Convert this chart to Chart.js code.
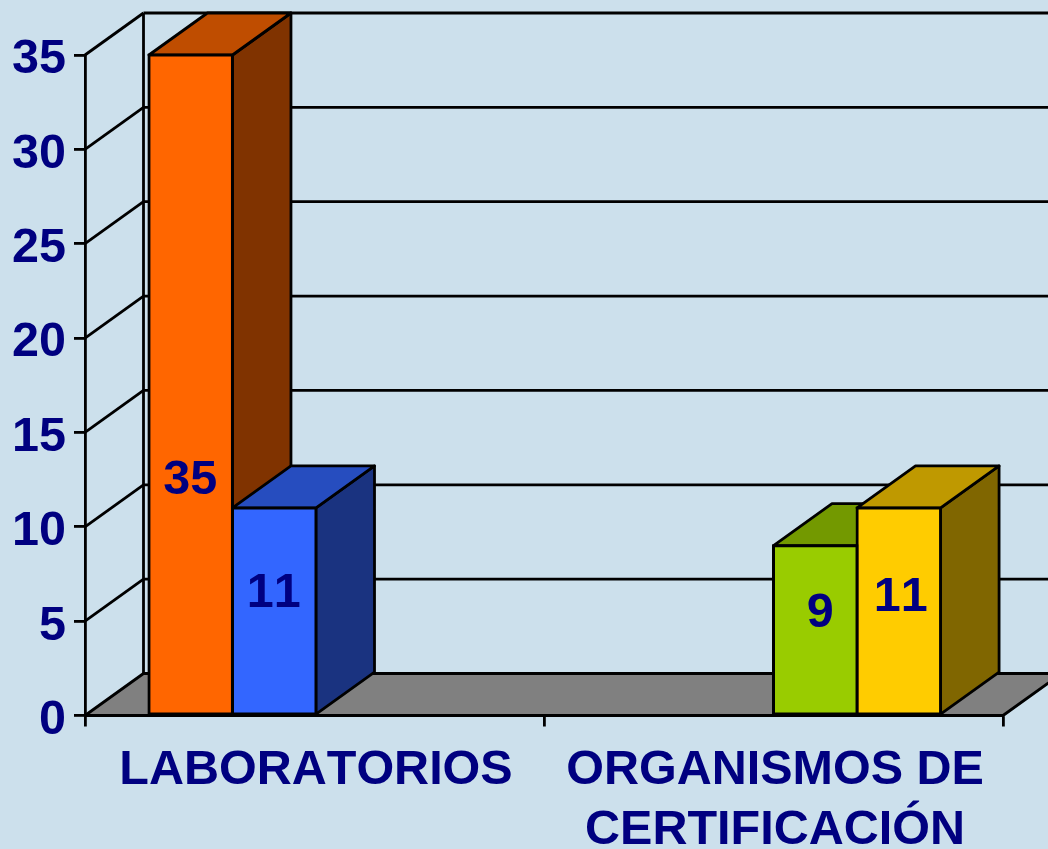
<!DOCTYPE html>
<html>
<head>
<meta charset="utf-8">
<title>Laboratorios y organismos de certificación</title>
<script src="https://cdn.jsdelivr.net/npm/chart.js@4"></script>
<style>
  html, body { margin: 0; padding: 0; background: #cce0ec; overflow: hidden; }
  canvas { display: block; }
</style>
</head>
<body>
<canvas id="chart" width="1048" height="849"></canvas>
<script>
const categories = ['LABORATORIOS', ['ORGANISMOS DE', 'CERTIFICACIÓN']];
const orangeValues = [35, null];
const blueValues = [11, null];
const greenValues = [null, 9];
const yellowValues = [null, 11];
const yTicksMax = 35;
const yTicksStep = 5;

const NAVY = '#000080';
const FONT = { family: '"Liberation Sans", Arial, sans-serif', size: 48.5, weight: 'bold', lineHeight: 1.24 };
const DEPTH_X = 58.5;
const DEPTH_Y = 42;
const LINE = 2.8;

// front, side and top colour of each series
const FACES = [
  ['#ff6600', '#803300', '#bf4d00'],
  ['#3366ff', '#1a3380', '#264dbf'],
  ['#99cc00', '#4d6600', '#739900'],
  ['#ffcc00', '#806600', '#bf9900']
];

// the value labels sit low in the bars, so they are placed by hand from the bar base
const LABEL_NUDGE = [
  { dx: -0.5, up: 233.5 },
  { dx: -0.5, up: 120.5 },
  { dx: 5, up: 100.5 },
  { dx: 2, up: 116.5 }
];

function poly(ctx, points, fill) {
  ctx.beginPath();
  points.forEach((p, i) => i ? ctx.lineTo(p[0], p[1]) : ctx.moveTo(p[0], p[1]));
  ctx.closePath();
  if (fill) {
    ctx.fillStyle = fill;
    ctx.fill();
  }
  ctx.stroke();
}

function line(ctx, x1, y1, x2, y2) {
  ctx.beginPath();
  ctx.moveTo(x1, y1);
  ctx.lineTo(x2, y2);
  ctx.stroke();
}

const box3d = {
  id: 'box3d',
  beforeDraw(chart) {
    // the original text has no kerning
    chart.ctx.fontKerning = 'none';
  },
  afterDatasetsUpdate(chart) {
    // first group sits a touch to the right in the original
    chart.data.datasets.forEach((ds, d) => {
      chart.getDatasetMeta(d).data[0].x += 1.5;
    });
  },
  beforeDatasetsDraw(chart) {
    const { ctx, scales: { x, y } } = chart;
    const left = x.left, right = x.right;
    const bottom = y.getPixelForValue(0);
    const top = y.getPixelForValue(yTicksMax);
    ctx.save();
    ctx.strokeStyle = '#000';
    ctx.lineWidth = LINE;
    ctx.lineJoin = 'round';

    // floor
    poly(ctx, [
      [left, bottom],
      [left + DEPTH_X, bottom - DEPTH_Y],
      [right + DEPTH_X, bottom - DEPTH_Y],
      [right, bottom]
    ], '#808080');

    // walls
    for (let v = yTicksStep; v <= yTicksMax; v += yTicksStep) {
      const py = y.getPixelForValue(v);
      line(ctx, left, py, left + DEPTH_X, py - DEPTH_Y);
      line(ctx, left + DEPTH_X, py - DEPTH_Y, chart.width, py - DEPTH_Y);
    }
    line(ctx, left + DEPTH_X, top - DEPTH_Y, left + DEPTH_X, bottom - DEPTH_Y);

    // side and top of each bar, left to right
    chart.data.labels.forEach((_, c) => {
      chart.data.datasets.forEach((ds, d) => {
        if (ds.data[c] === null) return;
        const bar = chart.getDatasetMeta(d).data[c];
        const l = bar.x - bar.width / 2;
        const r = bar.x + bar.width / 2;
        poly(ctx, [
          [r, bar.y],
          [r + DEPTH_X, bar.y - DEPTH_Y],
          [r + DEPTH_X, bar.base - DEPTH_Y],
          [r, bar.base]
        ], FACES[d][1]);
        poly(ctx, [
          [l, bar.y],
          [l + DEPTH_X, bar.y - DEPTH_Y],
          [r + DEPTH_X, bar.y - DEPTH_Y],
          [r, bar.y]
        ], FACES[d][2]);
      });
    });
    ctx.restore();
  },
  afterDatasetsDraw(chart) {
    const ctx = chart.ctx;
    ctx.save();
    ctx.font = `${FONT.weight} ${FONT.size}px ${FONT.family}`;
    ctx.fillStyle = NAVY;
    ctx.textAlign = 'center';
    ctx.textBaseline = 'middle';
    chart.data.datasets.forEach((ds, d) => {
      ds.data.forEach((value, c) => {
        if (value === null) return;
        const bar = chart.getDatasetMeta(d).data[c];
        ctx.fillText(String(value), bar.x + LABEL_NUDGE[d].dx, bar.base - LABEL_NUDGE[d].up);
      });
    });
    ctx.restore();
  }
};

function series(data, i) {
  return {
    data: data,
    backgroundColor: FACES[i][0],
    borderColor: '#000',
    borderWidth: 3,
    borderSkipped: false,
    inflateAmount: 1.5,
    categoryPercentage: 0.728,
    barPercentage: 1,
    clip: false
  };
}

new Chart(document.getElementById('chart'), {
  type: 'bar',
  data: {
    labels: categories,
    datasets: [orangeValues, blueValues, greenValues, yellowValues].map(series)
  },
  plugins: [box3d],
  options: {
    responsive: false,
    animation: false,
    layout: { padding: { top: 55, right: 45, left: 0, bottom: 0 } },
    plugins: { legend: { display: false }, tooltip: { enabled: false } },
    scales: {
      x: {
        afterFit(axis) { axis.height = 133.5; },
        border: { color: '#000', width: LINE },
        grid: { drawOnChartArea: false, color: '#000', lineWidth: LINE, tickLength: 11 },
        ticks: {
          color: NAVY, font: FONT, padding: 14, maxRotation: 0, minRotation: 0, autoSkip: false,
          labelOffset: 1.5
        }
      },
      y: {
        min: 0,
        max: yTicksMax,
        afterFit(axis) { axis.width = 85; },
        border: { color: '#000', width: LINE },
        grid: { drawOnChartArea: false, color: '#000', lineWidth: LINE, tickLength: 11 },
        ticks: { stepSize: yTicksStep, color: NAVY, font: FONT, padding: 8, labelOffset: 5 }
      }
    }
  }
});
</script>
</body>
</html>
